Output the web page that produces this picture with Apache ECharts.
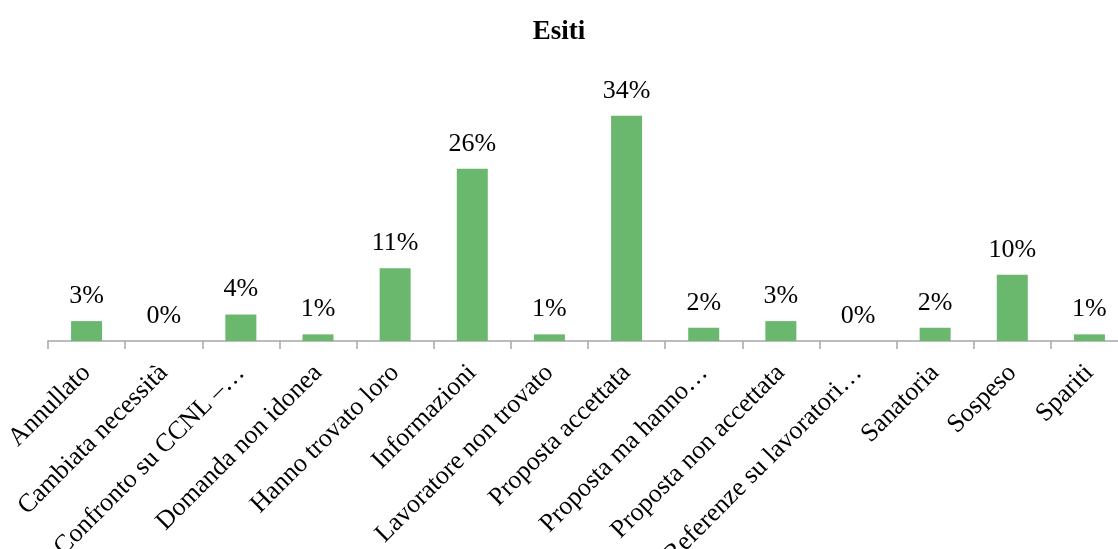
<!DOCTYPE html>
<html>
<head>
<meta charset="utf-8">
<script src="https://cdn.jsdelivr.net/npm/echarts@6/dist/echarts.min.js"></script>
<style>html,body{margin:0;padding:0;background:#fff}#c{width:1118px;height:549px}</style>
</head>
<body>
<div id="c"></div>
<script>
const categories = ["Annullato","Cambiata necessità","Confronto su CCNL –…","Domanda non idonea","Hanno trovato loro","Informazioni","Lavoratore non trovato","Proposta accettata","Proposta ma hanno…","Proposta non accettata","Referenze su lavoratori…","Sanatoria","Sospeso","Spariti"];
const values = [3,0,4,1,11,26,1,34,2,3,0,2,10,1];
const titleText = "Esiti";

const chart = echarts.init(document.getElementById('c'), null, {renderer:'canvas'});
const serif = '"Liberation Serif","DejaVu Serif",serif';
chart.setOption({
  animation:false,
  backgroundColor:'#fff',
  title:{text:titleText,left:'center',top:14,textStyle:{fontFamily:serif,fontWeight:'bold',fontSize:27,color:'#000'}},
  grid:{left:48,right:-10,top:76,bottom:208,containLabel:false,outerBoundsMode:'none'},
  xAxis:{type:'category',data:categories,
    axisLine:{lineStyle:{color:'#a6a6a6',width:1.5}},
    axisTick:{show:true,length:8,lineStyle:{color:'#a6a6a6',width:1.5}},
    axisLabel:{rotate:45,interval:0,margin:28,fontFamily:serif,fontSize:26,color:'#000'}},
  yAxis:{type:'value',min:0,max:40,show:false,splitLine:{show:false}},
  series:[{type:'bar',data:values,barWidth:31,
    itemStyle:{color:'#6ab76e'},
    label:{show:true,position:'top',distance:12,formatter:p=>p.value+'%',fontFamily:serif,fontSize:26,color:'#000'}}]
});
</script>
</body>
</html>
